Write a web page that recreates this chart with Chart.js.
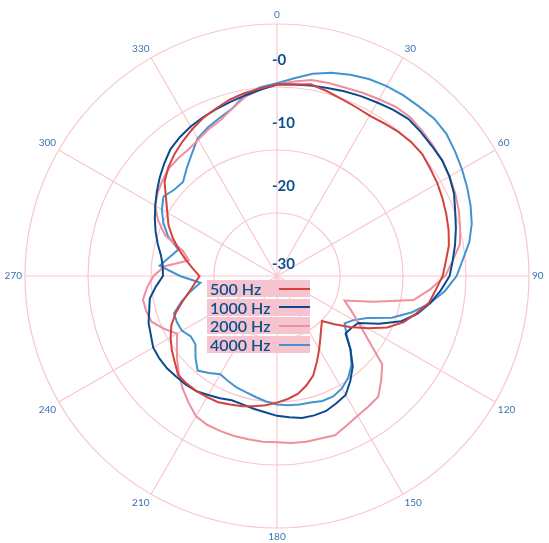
<!DOCTYPE html>
<html lang="en">
<head>
    <meta charset="UTF-8">
    <title>Polar pattern</title>
    <script src="https://cdn.jsdelivr.net/npm/chart.js"></script>
    <style>
        html, body { margin: 0; padding: 0; background: #fff; }
        #wrap { position: relative; width: 549px; height: 543px; overflow: hidden; }
        #legend { position: absolute; left: 207px; top: 280px; font-family: Lato, "Open Sans", sans-serif; }
        .legend-row { display: flex; align-items: center; width: 103px; height: 17px; margin-bottom: 1.7px; background: #f6c4ce; }
        .legend-text { width: 70px; padding-left: 3px; font-size: 16px; font-weight: 600; color: #0d4f8f; line-height: 17px; }
        .legend-line { width: 31px; height: 2px; }
    </style>
</head>
<body>
<div id="wrap">
    <canvas id="polar" width="549" height="543"></canvas>
    <div id="legend"></div>
</div>

<script>
// angles in degrees, one point every 5 degrees
const angles = [0, 5, 10, 15, 20, 25, 30, 35, 40, 45, 50, 55,
    60, 65, 70, 75, 80, 85, 90, 95, 100, 105, 110, 115,
    120, 125, 130, 135, 140, 145, 150, 155, 160, 165, 170, 175,
    180, 185, 190, 195, 200, 205, 210, 215, 220, 225, 230, 235,
    240, 245, 250, 255, 260, 265, 270, 275, 280, 285, 290, 295,
    300, 305, 310, 315, 320, 325, 330, 335, 340, 345, 350, 355];

// level in dB
const hz500 = [0.4, 0.5, 0.9, 0.4, -0.1, -0.4, -0.6, -0.4, -0.1, 0.1, 0.1, -0.3,
    -0.6, -1.0, -1.4, -1.8, -2.3, -3.1, -3.7, -4.7, -5.5, -7.1, -8.6, -10.7,
    -13.4, -15.9, -18.1, -19.9, -19.1, -18.0, -16.6, -15.0, -13.2, -12.0, -11.0, -10.4,
    -9.9, -9.4, -9.0, -8.6, -8.3, -7.9, -7.8, -7.7, -7.7, -7.8, -8.8, -9.6,
    -10.5, -11.5, -12.9, -14.5, -15.9, -16.9, -17.7, -16.6, -15.3, -13.9, -12.4, -11.0,
    -9.9, -8.5, -6.7, -5.6, -4.7, -3.9, -3.1, -2.3, -1.7, -1.0, -0.5, -0.1];

const hz1000 = [0.4, 0.5, 0.7, 0.9, 1.2, 1.5, 1.8, 2.2, 2.5, 2.3, 2.1, 2.0,
    1.6, 1.0, 0.1, -0.6, -1.3, -2.0, -2.6, -3.9, -5.3, -6.9, -9.0, -12.1,
    -15.1, -15.6, -15.8, -13.5, -11.3, -9.7, -8.2, -7.7, -7.2, -7.1, -7.1, -7.5,
    -7.8, -8.3, -8.6, -8.9, -9.0, -8.6, -8.2, -7.7, -7.5, -7.4, -7.2, -7.2,
    -7.3, -7.9, -8.3, -9.0, -9.5, -10.7, -11.9, -11.8, -11.3, -10.4, -9.5, -8.6,
    -7.7, -6.7, -5.7, -4.7, -3.7, -3.1, -2.6, -2.2, -1.8, -1.4, -0.9, -0.3];

const hz2000 = [0.4, 1.0, 1.6, 1.7, 1.8, 2.1, 2.4, 2.8, 2.9, 2.6, 2.3, 2.0,
    1.6, 1.2, 0.7, 0.1, -0.5, -2.0, -3.3, -5.6, -8.0, -14.2, -18.6, -17.0,
    -15.0, -12.3, -8.2, -6.6, -5.0, -4.7, -4.4, -3.8, -3.1, -3.3, -3.3, -3.4,
    -3.6, -3.6, -3.7, -3.7, -3.8, -3.9, -4.3, -5.5, -6.7, -8.0, -9.3, -10.6,
    -11.7, -10.2, -8.8, -8.5, -8.4, -9.3, -10.4, -12.1, -15.8, -14.5, -11.1, -9.2,
    -7.6, -6.9, -6.3, -5.8, -5.6, -5.5, -5.0, -4.3, -3.7, -2.5, -1.1, -0.3];

const hz4000 = [0.6, 1.5, 2.6, 3.4, 4.0, 4.5, 4.8, 5.0, 5.1, 5.3, 5.1, 4.5,
    3.9, 3.3, 2.7, 2.0, 1.0, -0.4, -1.5, -3.2, -5.3, -7.8, -10.6, -14.2,
    -16.0, -16.9, -15.6, -13.5, -11.6, -10.3, -9.4, -8.9, -8.9, -9.2, -9.3, -9.4,
    -9.6, -10.0, -10.5, -10.9, -11.2, -11.6, -12.0, -11.2, -10.4, -11.7, -13.1, -13.3,
    -12.6, -12.5, -12.6, -14.3, -16.1, -17.8, -14.6, -11.3, -12.7, -13.8, -11.6, -10.1,
    -8.9, -8.0, -8.7, -8.9, -7.7, -6.4, -4.8, -4.0, -3.3, -2.5, -0.8, 0.1];

const seriesNames = ['500 Hz', '1000 Hz', '2000 Hz', '4000 Hz'];
const tickValues = [0, -10, -20, -30];
const tickLabels = ['-0', '-10', '-20', '-30'];

const colors = ['#d3423f', '#0b4a8c', '#ef8e9c', '#4393d1'];
const gridColor = '#f8c6cf';

// tick labels sit a little outside their ring, like the original
const tickLabelPlugin = {
    id: 'tickLabels',
    beforeDatasetsDraw(chart) {
        const scale = chart.scales.r;
        const ctx = chart.ctx;
        ctx.save();
        ctx.font = 'bold 15px Lato, "Open Sans", sans-serif';
        ctx.fillStyle = '#0d4f8f';
        ctx.textAlign = 'left';
        ctx.textBaseline = 'middle';
        tickValues.forEach((v, i) => {
            const d = scale.getDistanceFromCenterForValue(v);
            const off = v === scale.min ? 12 : 27;
            ctx.fillText(tickLabels[i], scale.xCenter - 5, scale.yCenter - d - off);
        });
        ctx.restore();
    }
};

const data = [hz500, hz1000, hz2000, hz4000];

new Chart(document.getElementById('polar'), {
    type: 'radar',
    data: {
        labels: angles,
        datasets: data.map((values, i) => ({
            label: seriesNames[i],
            data: values,
            borderColor: colors[i],
            borderWidth: 2,
            pointRadius: 0,
            fill: false,
            tension: 0
        }))
    },
    options: {
        responsive: false,
        animation: false,
        layout: { padding: { top: 9, bottom: 0 } },
        plugins: {
            legend: { display: false },
            tooltip: { enabled: false }
        },
        scales: {
            r: {
                min: -30,
                max: 10,
                ticks: { stepSize: 10, display: false },
                grid: { circular: true, color: gridColor, lineWidth: 1.2 },
                angleLines: {
                    color: ctx => ctx.index % 6 === 0 ? gridColor : 'rgba(0,0,0,0)',
                    lineWidth: 1.2
                },
                pointLabels: {
                    callback: (label, index) => index % 6 === 0 ? String(label) : '',
                    color: '#3c72b0',
                    padding: 3,
                    font: { family: 'Lato, "Open Sans", sans-serif', size: 10 }
                }
            }
        }
    },
    plugins: [tickLabelPlugin]
});

// legend built from the series names
const legend = document.getElementById('legend');
seriesNames.forEach((name, i) => {
    const row = document.createElement('div');
    row.className = 'legend-row';
    row.innerHTML = '<span class="legend-text">' + name + '</span>' +
        '<span class="legend-line" style="background:' + colors[i] + '"></span>';
    legend.appendChild(row);
});
</script>
</body>
</html>
